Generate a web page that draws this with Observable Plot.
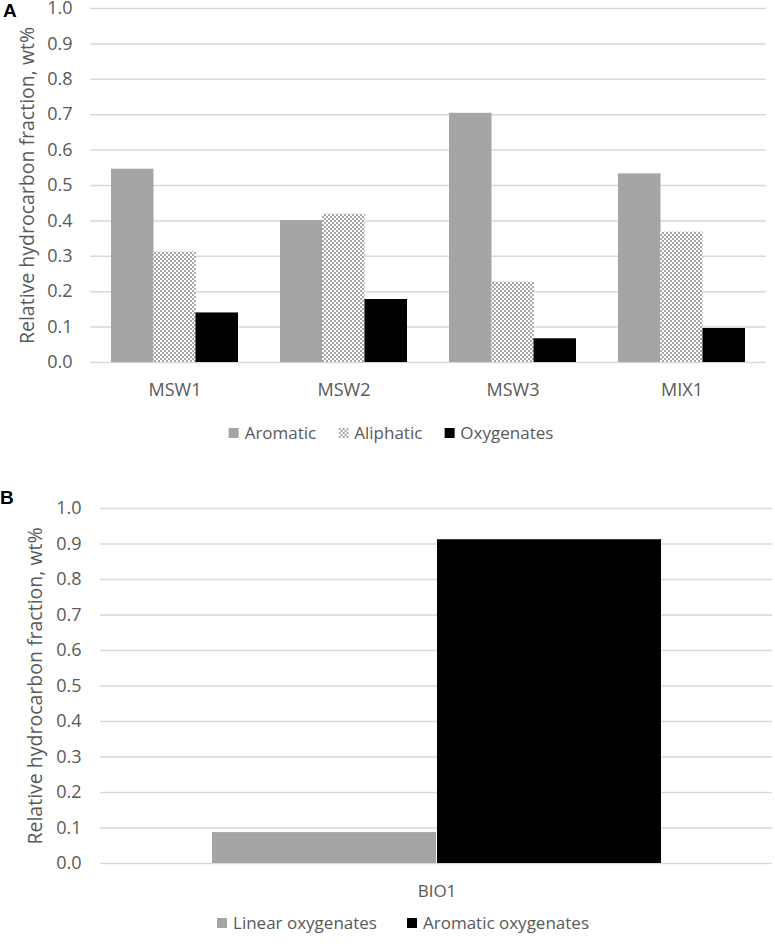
<!DOCTYPE html>
<html>
<head>
<meta charset="utf-8">
<script src="https://cdn.jsdelivr.net/npm/d3@7"></script>
<script src="https://cdn.jsdelivr.net/npm/@observablehq/plot@0.6"></script>
<style>
  body { margin: 0; background: white; }
  #page { position: relative; width: 775px; height: 944px; overflow: hidden; font-family: "Open Sans", sans-serif; color: #595959; }
  .panel { position: absolute; font-family: "Liberation Sans", Arial, sans-serif; font-weight: bold; font-size: 19px; line-height: 1; color: #000; }
  .legend { position: absolute; display: flex; align-items: center; white-space: nowrap; transform: translateX(-50%); }
  .item { display: flex; align-items: center; }
  .sw { width: 10px; height: 10px; margin-right: 6px; }
  svg.chart { position: absolute; left: 0; max-width: none !important; }
  svg.chart text { font-family: "Open Sans", sans-serif; font-size: 18px; fill: #595959; }
  svg.chart g[aria-label="y-axis label"] text { font-size: 19.5px; }
  svg.chartB g[aria-label="x-axis tick label"] text { font-size: 17px; }
</style>
</head>
<body>
<div id="page"></div>
<script>
// ---- Data ----
const categoriesA = ["MSW1", "MSW2", "MSW3", "MIX1"];
const aromatic    = [0.546, 0.401, 0.704, 0.533];
const aliphatic   = [0.312, 0.419, 0.227, 0.368];
const oxygenates  = [0.140, 0.178, 0.067, 0.096];
const seriesA     = ["Aromatic", "Aliphatic", "Oxygenates"];

const categoriesB = ["BIO1"];
const linearOxy   = [0.087];
const aromaticOxy = [0.912];
const seriesB     = ["Linear oxygenates", "Aromatic oxygenates"];

const yTicks = [0.0, 0.1, 0.2, 0.3, 0.4, 0.5, 0.6, 0.7, 0.8, 0.9, 1.0];
const yTitle = "Relative hydrocarbon fraction, wt%";

// ---- Styles ----
const GRAY = "#a5a5a5", BLACK = "#000000", GRID = "#d9d9d9";
const page = document.getElementById("page");

function rows(cats, vals) { return cats.map((c, i) => ({cat: c, v: vals[i]})); }

// ---- Chart A ----
const W = 775;
const mlA = 90, mrA = 9;
const stepA = (W - mlA - mrA) / (categoriesA.length - 0.25 + 0.25);
const bwA = stepA * 0.75, thirdA = bwA / 3;

const chartA = Plot.plot({
  width: W, height: 402,
  marginLeft: mlA, marginRight: mrA, marginTop: 8, marginBottom: 40,
  style: {background: "transparent", overflow: "visible"},
  x: {domain: categoriesA, paddingInner: 0.25, paddingOuter: 0.125, tickSize: 0, tickPadding: 21, label: null},
  y: {domain: [0, 1], ticks: yTicks, tickFormat: d => d.toFixed(1), tickSize: 0, tickPadding: 18,
      label: yTitle, labelAnchor: "center", labelOffset: 70, labelArrow: false},
  marks: [
    Plot.ruleY(yTicks, {stroke: GRID, strokeWidth: 1.5}),
    Plot.barY(rows(categoriesA, aromatic),   {x: "cat", y: "v", fill: GRAY, insetRight: 2 * thirdA}),
    Plot.barY(rows(categoriesA, aliphatic),  {x: "cat", y: "v", fill: "url(#aliphPat)", insetLeft: thirdA, insetRight: thirdA}),
    Plot.barY(rows(categoriesA, oxygenates), {x: "cat", y: "v", fill: BLACK, insetLeft: 2 * thirdA})
  ]
});
chartA.classList.add("chart");
chartA.insertAdjacentHTML("afterbegin",
  `<defs><pattern id="aliphPat" width="4" height="4" patternUnits="userSpaceOnUse">
     <rect width="4" height="4" fill="${GRAY}"/>
     <rect x="0" y="0" width="2" height="2" fill="#fff"/>
     <rect x="2" y="2" width="2" height="2" fill="#fff"/>
   </pattern></defs>`);
chartA.style.top = "0px";
page.appendChild(chartA);

// ---- Chart B ----
const mlB = 100, mrB = 3;
const padB = 0.2467;
const bwB = (W - mlB - mrB) / (1 + 2 * padB);

const chartB = Plot.plot({
  width: W, height: 403,
  marginLeft: mlB, marginRight: mrB, marginTop: 8, marginBottom: 40,
  style: {background: "transparent", overflow: "visible"},
  x: {domain: categoriesB, paddingInner: 0, paddingOuter: padB, tickSize: 0, tickPadding: 21, label: null},
  y: {domain: [0, 1], ticks: yTicks, tickFormat: d => d.toFixed(1), tickSize: 0, tickPadding: 19,
      label: yTitle, labelAnchor: "center", labelOffset: 72, labelArrow: false},
  marks: [
    Plot.ruleY(yTicks, {stroke: GRID, strokeWidth: 1.5}),
    Plot.barY(rows(categoriesB, linearOxy),   {x: "cat", y: "v", fill: GRAY, insetRight: bwB / 2}),
    Plot.barY(rows(categoriesB, aromaticOxy), {x: "cat", y: "v", fill: BLACK, insetLeft: bwB / 2})
  ]
});
chartB.classList.add("chart", "chartB");
chartB.style.top = "500px";
page.appendChild(chartB);

// ---- Panel letters ----
function panel(txt, x, y) {
  const d = document.createElement("div");
  d.className = "panel"; d.textContent = txt;
  d.style.left = x + "px"; d.style.top = y + "px";
  page.appendChild(d);
}
panel("A", 3, 1);
panel("B", 0, 488);

// ---- Legends ----
function legend(names, fills, cx, top, gap, fontSize) {
  const lg = document.createElement("div");
  lg.className = "legend";
  lg.style.left = cx + "px"; lg.style.top = top + "px"; lg.style.fontSize = fontSize + "px";
  names.forEach((n, i) => {
    const it = document.createElement("div");
    it.className = "item";
    if (i > 0) it.style.marginLeft = gap + "px";
    const sw = document.createElement("div");
    sw.className = "sw";
    sw.style.background = fills[i];
    const t = document.createElement("span");
    t.textContent = n;
    it.appendChild(sw); it.appendChild(t);
    lg.appendChild(it);
  });
  page.appendChild(lg);
}
const patCss = `repeating-conic-gradient(#fff 0 25%, ${GRAY} 0 50%) 0 0 / 4px 4px`;
legend(seriesA, [GRAY, patCss, BLACK], 391, 421, 22, 17);
legend(seriesB, [GRAY, BLACK], 403, 911, 30, 17);
</script>
</body>
</html>
